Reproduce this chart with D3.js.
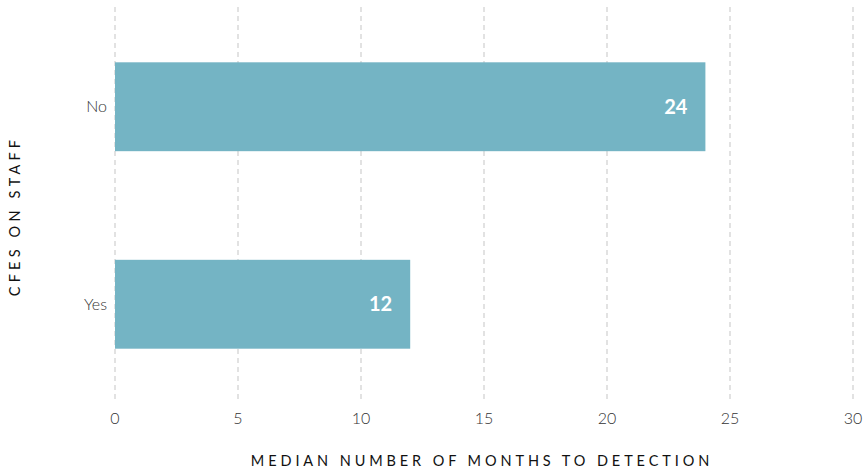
<!DOCTYPE html>
<html><head><meta charset="utf-8">
<script src="https://cdn.jsdelivr.net/npm/d3@7"></script>
<style>body{margin:0;background:#fff}</style>
</head><body>
<svg id="c" width="866" height="472"></svg>
<script>
const categories = ["No", "Yes"];
const values = [24, 12];
const ticks = [0, 5, 10, 15, 20, 25, 30];
const xTitle = "MEDIAN NUMBER OF MONTHS TO DETECTION";
const yTitle = "CFES ON STAFF";

const svg = d3.select("#c");
const font = "Lato, 'Open Sans', sans-serif";
const x = d3.scaleLinear().domain([0, 30]).range([115, 853]);
const y = d3.scaleBand().domain(categories).range([7, 404]).paddingInner(0.55).paddingOuter(0.28);

// grid
svg.append("g").selectAll("line").data(ticks).join("line")
  .attr("x1", d => x(d)).attr("x2", d => x(d))
  .attr("y1", 7).attr("y2", 402)
  .attr("stroke", "#cfcfcf").attr("stroke-width", 1.2).attr("stroke-dasharray", "5,4");

// bars
svg.append("g").selectAll("rect").data(categories).join("rect")
  .attr("x", x(0)).attr("y", d => y(d))
  .attr("width", (d, i) => x(values[i]) - x(0))
  .attr("height", y.bandwidth())
  .attr("fill", "#74b4c4");

// value labels
svg.append("g").selectAll("text").data(categories).join("text")
  .attr("x", (d, i) => x(values[i]) - 18)
  .attr("y", d => y(d) + y.bandwidth() / 2)
  .attr("dy", "0.35em").attr("text-anchor", "end")
  .attr("fill", "#fff").attr("font-family", font).attr("font-weight", "bold").attr("font-size", 20)
  .text((d, i) => values[i]);

// x tick labels
svg.append("g").selectAll("text").data(ticks).join("text")
  .attr("x", d => x(d)).attr("y", 424).attr("text-anchor", "middle")
  .attr("fill", "#333").attr("font-family", font).attr("font-weight", 300).attr("font-size", 16)
  .text(d => d);

// y category labels
svg.append("g").selectAll("text").data(categories).join("text")
  .attr("x", 107).attr("y", d => y(d) + y.bandwidth() / 2)
  .attr("dy", "0.35em").attr("text-anchor", "end")
  .attr("fill", "#333").attr("font-family", font).attr("font-weight", 300).attr("font-size", 16)
  .text(d => d);

// axis titles
svg.append("text").attr("x", 482).attr("y", 466).attr("text-anchor", "middle")
  .attr("fill", "#111").attr("font-family", font).attr("font-size", 14.5).attr("letter-spacing", "3.9px")
  .text(xTitle);
svg.append("text").attr("transform", "translate(20,216) rotate(-90)").attr("text-anchor", "middle")
  .attr("fill", "#111").attr("font-family", font).attr("font-size", 14.5).attr("letter-spacing", "4.2px")
  .text(yTitle);
</script>
</body></html>
